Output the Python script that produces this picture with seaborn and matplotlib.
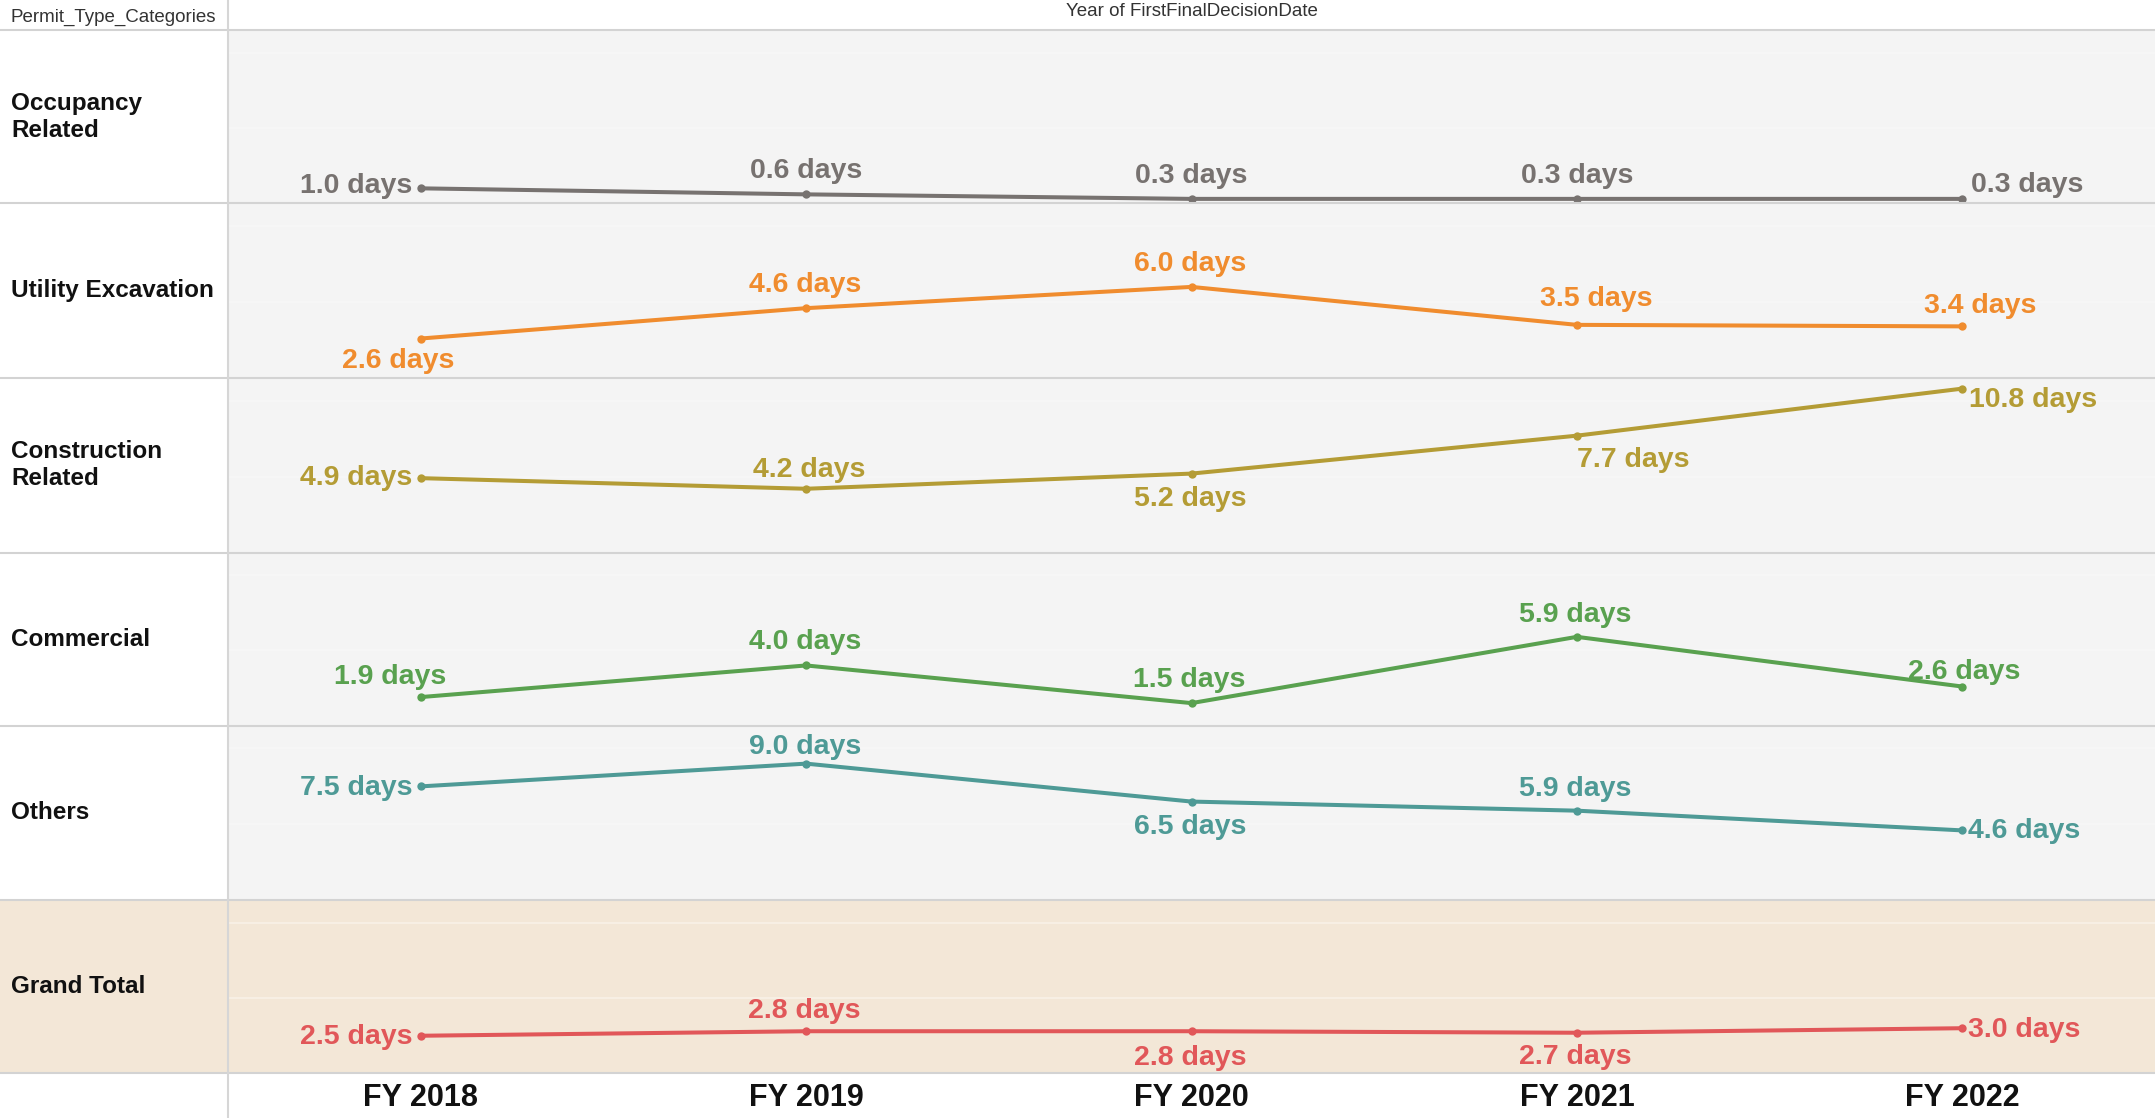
import numpy as np
import pandas as pd
import matplotlib
matplotlib.use("Agg")
import matplotlib.pyplot as plt
from matplotlib.patches import Rectangle
from matplotlib.lines import Line2D
import seaborn as sns

# ---------------- data ----------------
years = ["FY 2018", "FY 2019", "FY 2020", "FY 2021", "FY 2022"]
categories = ["Occupancy\nRelated", "Utility Excavation", "Construction\nRelated",
              "Commercial", "Others", "Grand Total"]
occupancy = [1.0, 0.6, 0.3, 0.3, 0.3]
utility = [2.6, 4.6, 6.0, 3.5, 3.4]
construction = [4.9, 4.2, 5.2, 7.7, 10.8]
commercial = [1.9, 4.0, 1.5, 5.9, 2.6]
others = [7.5, 9.0, 6.5, 5.9, 4.6]
grand_total = [2.5, 2.8, 2.8, 2.7, 3.0]
series = [occupancy, utility, construction, commercial, others, grand_total]

row_title = "Permit_Type_Categories"
col_title = "Year of FirstFinalDecisionDate"

# ---------------- style ----------------
colors = ["#777270", "#F08C2E", "#B49C35", "#59A14F", "#4E9A96", "#E15759"]

# label placement per point: (ha, dx, dy) in points
placements = [
    [("right", -6, 4), ("center", 0, 19), ("center", 0, 19), ("center", 0, 19), ("left", 6, 12)],
    [("center", -16, -14), ("center", -1, 19), ("center", -1, 19), ("center", 14, 21), ("center", 13, 17)],
    [("right", -6, 2), ("center", 2, 16), ("center", -1, -16), ("left", 0, -15), ("left", 5, -6)],
    [("center", -22, 17), ("center", -1, 19), ("center", -2, 19), ("center", -1, 18), ("center", 1, 13)],
    [("right", -6, 1), ("center", -1, 14), ("center", -1, -16), ("center", -1, 18), ("left", 4, 2)],
    [("right", -6, 1), ("center", -1, 17), ("center", -1, -17), ("center", -1, -15), ("left", 4, 1)],
]
label_shift = -2.2  # vertical correction for text centre (points)

W, H = 2155, 1118
DPI = 100
sns.set_theme(style="white")
plt.rcParams["font.family"] = ["Liberation Sans", "DejaVu Sans"]

fig = plt.figure(figsize=(W / DPI, H / DPI), dpi=DPI)
fig.patch.set_facecolor("white")

bounds = [30.2, 203.4, 378.0, 552.5, 725.7, 900.2, 1073.4]
left_px = 228
panel_bg = "#F4F4F4"
total_bg = "#F3E7D7"
grid_cols = ["#F7F7F7", "#F9F1E7"]
sep_color = "#D3D3D3"

# Grand Total row background across label column
fig.patches.append(Rectangle((0, 1 - bounds[6] / H), left_px / W, (bounds[6] - bounds[5]) / H,
                             transform=fig.transFigure, facecolor=total_bg,
                             edgecolor="none", zorder=-5))

axes = []
for i, (cat, vals) in enumerate(zip(categories, series)):
    top, bot = bounds[i], bounds[i + 1]
    ax = fig.add_axes([left_px / W, 1 - bot / H, 1 - left_px / W, (bot - top) / H])
    ax.set_facecolor(total_bg if i == 5 else panel_bg)
    df = pd.DataFrame({"year": years, "days": vals})
    df["pos"] = np.arange(len(years))
    for g in (5, 10):
        ax.axhline(g, color=grid_cols[1] if i == 5 else grid_cols[0], lw=1.2, zorder=1)
    sns.lineplot(data=df, x="pos", y="days", ax=ax, color=colors[i], linewidth=2.9,
                 marker="o", markersize=6, markeredgewidth=0, zorder=3)
    ax.set_xlim(-0.5, len(years) - 0.5)
    ax.set_ylim(0, 11.5)
    for sp in ax.spines.values():
        sp.set_visible(False)
    ax.set_ylabel("")
    ax.set_xlabel("")
    ax.set_yticks([])
    for j, v in enumerate(vals):
        ha, dx, dy = placements[i][j]
        ax.annotate(f"{v:.1f} days", (j, v), xytext=(dx, dy + label_shift),
                    textcoords="offset points",
                    ha=ha, va="center", fontsize=20.5, fontweight="bold",
                    color=colors[i], zorder=4)
    if i == len(categories) - 1:
        ax.set_xticks(np.arange(len(years)))
        ax.set_xticklabels(years, fontsize=22, fontweight="bold", color="#111111")
        ax.tick_params(axis="x", length=0, pad=7)
    else:
        ax.set_xticks([])
    # row label
    fig.text(11 / W, 1 - (top + bot) / 2 / H, cat, ha="left", va="center",
             fontsize=17.5, fontweight="bold", color="#111111", linespacing=1.25)
    axes.append(ax)

# separators
for b in bounds:
    fig.add_artist(Line2D([0, 1], [1 - b / H, 1 - b / H], transform=fig.transFigure,
                          color=sep_color, lw=1.5, zorder=10))
fig.add_artist(Line2D([left_px / W, left_px / W], [0, 1], transform=fig.transFigure,
                      color="#D6D6D6", lw=1.5, zorder=10))

# headers
fig.text(11 / W, 1 - 17 / H, row_title, ha="left", va="center", fontsize=13.5,
         color="#333333")
fig.text((left_px + W) / 2 / W, 1 - 12 / H, col_title, ha="center", va="center",
         fontsize=13.5, color="#333333")

fig.savefig("out.png", dpi=DPI, facecolor="white")
